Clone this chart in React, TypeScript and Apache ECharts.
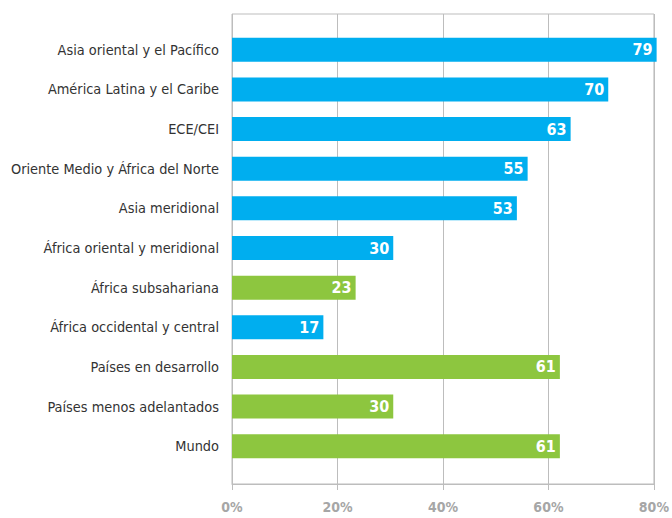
import React, { useEffect, useRef } from "react";
import * as echarts from "echarts";

const categories = [
  "Asia oriental y el Pacífico",
  "América Latina y el Caribe",
  "ECE/CEI",
  "Oriente Medio y África del Norte",
  "Asia meridional",
  "África oriental y meridional",
  "África subsahariana",
  "África occidental y central",
  "Países en desarrollo",
  "Países menos adelantados",
  "Mundo",
];
const values = [79, 70, 63, 55, 53, 30, 23, 17, 61, 30, 61];
const groups = ["r", "r", "r", "r", "r", "r", "a", "r", "a", "a", "a"];
const xTicks = [0, 20, 40, 60, 80];

const BLUE = "#00AEEF";
const GREEN = "#8DC63F";
const FONT = "'DejaVu Sans Condensed', 'Liberation Sans Narrow', sans-serif";

export default function App() {
  const ref = useRef<HTMLDivElement>(null);
  useEffect(() => {
    if (!ref.current) return;
    const chart = echarts.init(ref.current, null, { renderer: "svg" });
    chart.setOption({
      animation: false,
      grid: [
        { left: 232, right: 10, top: 14, bottom: 34, show: true, borderColor: "#bdbdbd", borderWidth: 1 },
        { left: 232, right: 10, top: 30, bottom: 52 },
      ],
      xAxis: [
        {
          gridIndex: 0,
          type: "value",
          min: 0,
          max: 80,
          interval: 20,
          axisLine: { show: true, lineStyle: { color: "#bdbdbd", width: 1 } },
          axisTick: { show: true, length: 6, lineStyle: { color: "#bdbdbd" } },
          splitLine: { show: true, lineStyle: { color: "#bdbdbd", width: 1 } },
          axisLabel: {
            color: "#a6a6a6",
            fontFamily: FONT,
            fontWeight: "bold",
            fontSize: 14,
            margin: 16,
            formatter: (v: number) => (xTicks.includes(v) ? v + "%" : ""),
          },
        },
        { gridIndex: 1, type: "value", min: 0, max: 80, show: false },
      ],
      yAxis: [
        { gridIndex: 0, type: "value", show: false, min: 0, max: 1 },
        {
          gridIndex: 1,
          type: "category",
          inverse: true,
          data: categories,
          axisLine: { show: false },
          axisTick: { show: false },
          axisLabel: { color: "#333", fontFamily: FONT, fontSize: 14.4, margin: 13 },
        },
      ],
      series: [
        {
          type: "bar",
          xAxisIndex: 1,
          yAxisIndex: 1,
          barWidth: 24,
          data: values.map((v, i) => ({
            value: v,
            itemStyle: { color: groups[i] === "a" ? GREEN : BLUE },
          })),
          label: {
            show: true,
            position: "insideRight",
            distance: 4,
            color: "#fff",
            fontFamily: FONT,
            fontWeight: "bold",
            fontSize: 16,
          },
        },
      ],
    });
    return () => chart.dispose();
  }, []);
  return <div ref={ref} style={{ width: 672, height: 518, position: "absolute", left: 0, top: 0 }} />;
}
